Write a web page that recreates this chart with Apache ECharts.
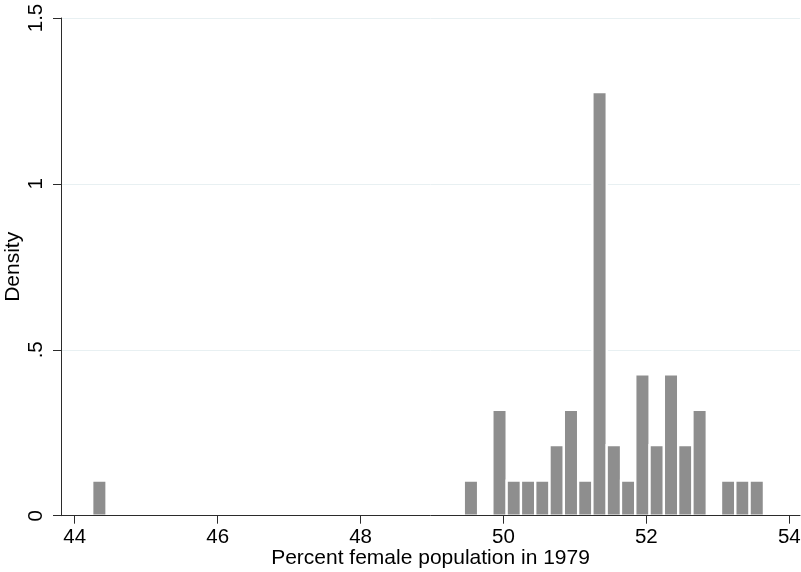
<!DOCTYPE html>
<html>
<head>
<meta charset="utf-8">
<script src="https://cdn.jsdelivr.net/npm/echarts@6/dist/echarts.min.js"></script>
<style>
html,body{margin:0;padding:0;background:#fff;}
#chart{width:801px;height:572px;}
</style>
</head>
<body>
<div id="chart"></div>
<script>
// Histogram bins (percent female population in 1979), non-empty bins only
const binLow  = [44.245, 49.445, 49.845, 50.045, 50.245, 50.445, 50.645, 50.845, 51.045, 51.245,
                 51.445, 51.645, 51.845, 52.045, 52.245, 52.445, 52.645, 53.045, 53.245, 53.445];
const binHigh = [44.445, 49.645, 50.045, 50.245, 50.445, 50.645, 50.845, 51.045, 51.245, 51.445,
                 51.645, 51.845, 52.045, 52.245, 52.445, 52.645, 52.845, 53.245, 53.445, 53.645];
const density = [0.106, 0.106, 0.319, 0.106, 0.106, 0.106, 0.213, 0.319, 0.106, 1.277,
                 0.213, 0.106, 0.426, 0.213, 0.426, 0.213, 0.319, 0.106, 0.106, 0.106];

const xTicks = [44, 46, 48, 50, 52, 54];
const xTickLabels = ['44', '46', '48', '50', '52', '54'];
const yTicks = [0, 0.5, 1, 1.5];
const yTickLabels = ['0', '.5', '1', '1.5'];

const xTitle = 'Percent female population in 1979';
const yTitle = 'Density';

const data = binLow.map((lo, i) => [lo, binHigh[i], density[i]]);

const FONT = 'Liberation Sans, Arial, Helvetica, sans-serif';
const chart = echarts.init(document.getElementById('chart'), null, {renderer: 'canvas'});
chart.setOption({
  animation: false,
  backgroundColor: '#ffffff',
  grid: {left: 61, right: 1, top: 18, bottom: 56.3, containLabel: false, outerBoundsMode: 'none'},
  xAxis: {
    type: 'value',
    min: 43.808,
    max: 54.15,
    z: 10,
    name: xTitle,
    nameLocation: 'middle',
    nameGap: 32,
    nameMoveOverlap: false,
    nameTextStyle: {fontFamily: FONT, fontSize: 21, color: '#000', verticalAlign: 'top'},
    axisLine: {show: true, onZero: false, lineStyle: {color: '#2b2b2b', width: 1}},
    axisTick: {show: true, length: 8, customValues: xTicks, lineStyle: {color: '#2b2b2b', width: 1}},
    axisLabel: {
      show: true, customValues: xTicks, margin: 11,
      fontFamily: FONT, fontSize: 20.5, color: '#000',
      formatter: v => { const i = xTicks.indexOf(v); return i >= 0 ? xTickLabels[i] : ''; }
    },
    splitLine: {show: false}
  },
  yAxis: {
    type: 'value',
    min: 0,
    max: 1.5,
    interval: 0.5,
    name: yTitle,
    nameLocation: 'middle',
    nameGap: 37,
    nameMoveOverlap: false,
    nameTextStyle: {fontFamily: FONT, fontSize: 21, color: '#000'},
    axisLine: {show: true, lineStyle: {color: '#2b2b2b', width: 1}},
    axisTick: {show: true, length: 8, lineStyle: {color: '#2b2b2b', width: 1}},
    axisLabel: {
      show: true, rotate: 90, margin: 14,
      fontFamily: FONT, fontSize: 20.5, color: '#000',
      formatter: v => {
        const i = yTicks.findIndex(t => Math.abs(t - v) < 1e-9);
        return i >= 0 ? yTickLabels[i] : '';
      }
    },
    splitLine: {show: true, lineStyle: {color: '#e8f0f2', width: 1}}
  },
  series: [{
    type: 'custom',
    clip: false,
    encode: {x: [0, 1], y: 2},
    data: data,
    renderItem: function (params, api) {
      const lo = api.value(0), hi = api.value(1), d = api.value(2);
      const p0 = api.coord([lo, d]);
      const p1 = api.coord([hi, 0]);
      return {
        type: 'rect',
        shape: {x: p0[0], y: p0[1], width: p1[0] - p0[0], height: p1[1] - p0[1]},
        style: {fill: '#8e8e8e', stroke: '#ffffff', lineWidth: 2.3}
      };
    }
  }]
});
</script>
</body>
</html>
